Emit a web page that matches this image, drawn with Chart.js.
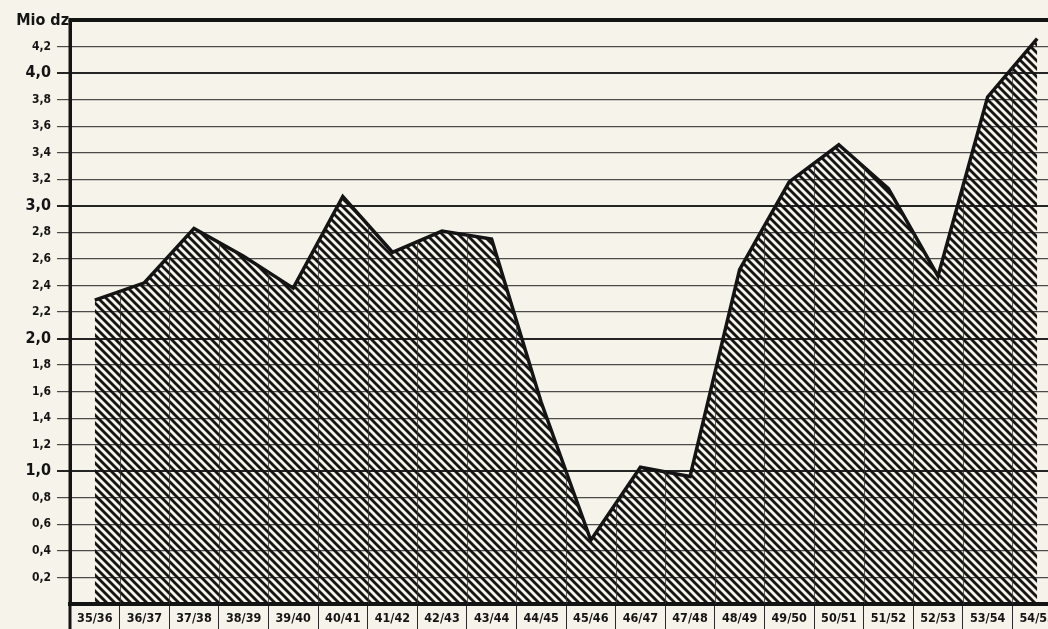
<!DOCTYPE html>
<html>
<head>
<meta charset="utf-8">
<script src="https://cdn.jsdelivr.net/npm/chart.js@4.4.1/dist/chart.umd.min.js"></script>
<style>
  html, body { margin: 0; padding: 0; background: #f6f4ea; overflow: hidden; width: 1048px; height: 629px; }
  #wrap { width: 1062px; height: 629px; }
  canvas { display: block; }
</style>
</head>
<body>
<div id="wrap"><canvas id="c" width="1062" height="629"></canvas></div>
<script>
// ---- data ----
const categories = ["35/36","36/37","37/38","38/39","39/40","40/41","41/42","42/43","43/44","44/45",
                    "45/46","46/47","47/48","48/49","49/50","50/51","51/52","52/53","53/54","54/55"];
const values = [2.29, 2.42, 2.83, 2.62, 2.38, 3.07, 2.65, 2.81, 2.75, 1.52,
                0.48, 1.03, 0.96, 2.52, 3.18, 3.46, 3.13, 2.47, 3.82, 4.26];
const yMin = 0;
const yMax = 4.4;
const yStep = 0.2;
const unitLabel = "Mio dz";

const FONT = "'DejaVu Sans Condensed', 'Liberation Sans Narrow', Roboto, sans-serif";
const INK = '#141414';
const BG = '#f6f4ea';

// hatch pattern "\\\\"
function makeHatch() {
  const s = 8;
  const pc = document.createElement('canvas');
  pc.width = s; pc.height = s;
  const g = pc.getContext('2d');
  g.strokeStyle = INK;
  g.lineWidth = 2.8;
  g.lineCap = 'square';
  for (const c of [-s, 0, s]) {
    g.beginPath();
    g.moveTo(c, 0);
    g.lineTo(c + s, s);
    g.stroke();
  }
  return document.getElementById('c').getContext('2d').createPattern(pc, 'repeat');
}

const isInt = v => Math.abs(v - Math.round(v)) < 1e-6;

const decorPlugin = {
  id: 'decor',
  beforeDraw(chart) {
    const ctx = chart.ctx;
    ctx.save();
    ctx.fillStyle = BG;
    ctx.fillRect(0, 0, chart.width, chart.height);
    ctx.restore();
  },
  afterDatasetsDraw(chart) {
    const ctx = chart.ctx;
    const ca = chart.chartArea;
    const xs = chart.scales.x;
    const ys = chart.scales.y;
    const pts = chart.getDatasetMeta(0).data;
    const base = ys.getPixelForValue(0);
    // vertical category lines visible only inside the hatched area
    ctx.save();
    ctx.beginPath();
    ctx.moveTo(pts[0].x, base);
    pts.forEach(p => ctx.lineTo(p.x, p.y));
    ctx.lineTo(pts[pts.length - 1].x, base);
    ctx.closePath();
    ctx.clip();
    ctx.strokeStyle = 'rgba(50,50,50,0.75)';
    ctx.lineWidth = 1;
    for (let i = 1; i < categories.length; i++) {
      const x = Math.round((xs.getPixelForValue(i - 1) + xs.getPixelForValue(i)) / 2) + 0.5;
      ctx.beginPath();
      ctx.moveTo(x, ca.top);
      ctx.lineTo(x, ca.bottom);
      ctx.stroke();
    }
    ctx.restore();
  },
  afterDraw(chart) {
    const ctx = chart.ctx;
    const ca = chart.chartArea;
    ctx.save();
    // top frame line
    ctx.strokeStyle = INK;
    ctx.lineWidth = 4;
    ctx.beginPath();
    ctx.moveTo(ca.left - 1.5, ca.top);
    ctx.lineTo(chart.width, ca.top);
    ctx.stroke();
    // left axis extends through the label row
    ctx.lineWidth = 3;
    ctx.beginPath();
    ctx.moveTo(ca.left, ca.top);
    ctx.lineTo(ca.left, chart.height);
    ctx.stroke();
    // unit label
    ctx.fillStyle = INK;
    ctx.font = 'bold 16px ' + FONT;
    ctx.textAlign = 'right';
    ctx.textBaseline = 'middle';
    ctx.fillText(unitLabel, ca.left - 1, ca.top + 1);
    ctx.restore();
  }
};

new Chart(document.getElementById('c'), {
  type: 'line',
  data: {
    labels: categories,
    datasets: [{
      data: values,
      borderColor: INK,
      borderWidth: 3.5,
      borderJoinStyle: 'miter',
      backgroundColor: makeHatch(),
      fill: 'origin',
      pointRadius: 0,
      tension: 0
    }]
  },
  options: {
    responsive: false,
    animation: false,
    layout: { padding: { top: 20, left: 0, right: 0, bottom: 0 } },
    plugins: { legend: { display: false }, tooltip: { enabled: false } },
    scales: {
      x: {
        type: 'category',
        offset: true,
        afterFit(s) { s.height = 25; },
        border: { display: true, width: 4, color: INK },
        grid: {
          offset: true,
          drawOnChartArea: false,
          drawTicks: true,
          tickLength: 26,
          color: '#2a2a2a',
          lineWidth: 1
        },
        ticks: {
          padding: -19,
          maxRotation: 0,
          autoSkip: false,
          color: INK,
          font: { family: FONT, size: 12.5, weight: 'bold' }
        }
      },
      y: {
        min: yMin,
        max: yMax,
        afterFit(s) { s.width = 70; },
        border: { display: true, width: 3, color: INK },
        grid: {
          color: ctx => isInt(ctx.tick.value) ? 'rgba(25,25,25,0.95)' : 'rgba(45,45,45,0.85)',
          lineWidth: ctx => (ctx.tick.value <= 0 || ctx.tick.value >= yMax - 1e-6) ? 0 : (isInt(ctx.tick.value) ? 2 : 1.2),
          tickLength: 13
        },
        ticks: {
          stepSize: yStep,
          padding: 6,
          color: INK,
          font: ctx => (ctx.tick && isInt(ctx.tick.value))
            ? { family: FONT, size: 16, weight: 'bold' }
            : { family: FONT, size: 12, weight: 'bold' },
          callback: v => (v <= 0 || v >= yMax - 1e-6) ? '' : v.toFixed(1).replace('.', ',')
        }
      }
    }
  },
  plugins: [decorPlugin]
});
</script>
</body>
</html>
